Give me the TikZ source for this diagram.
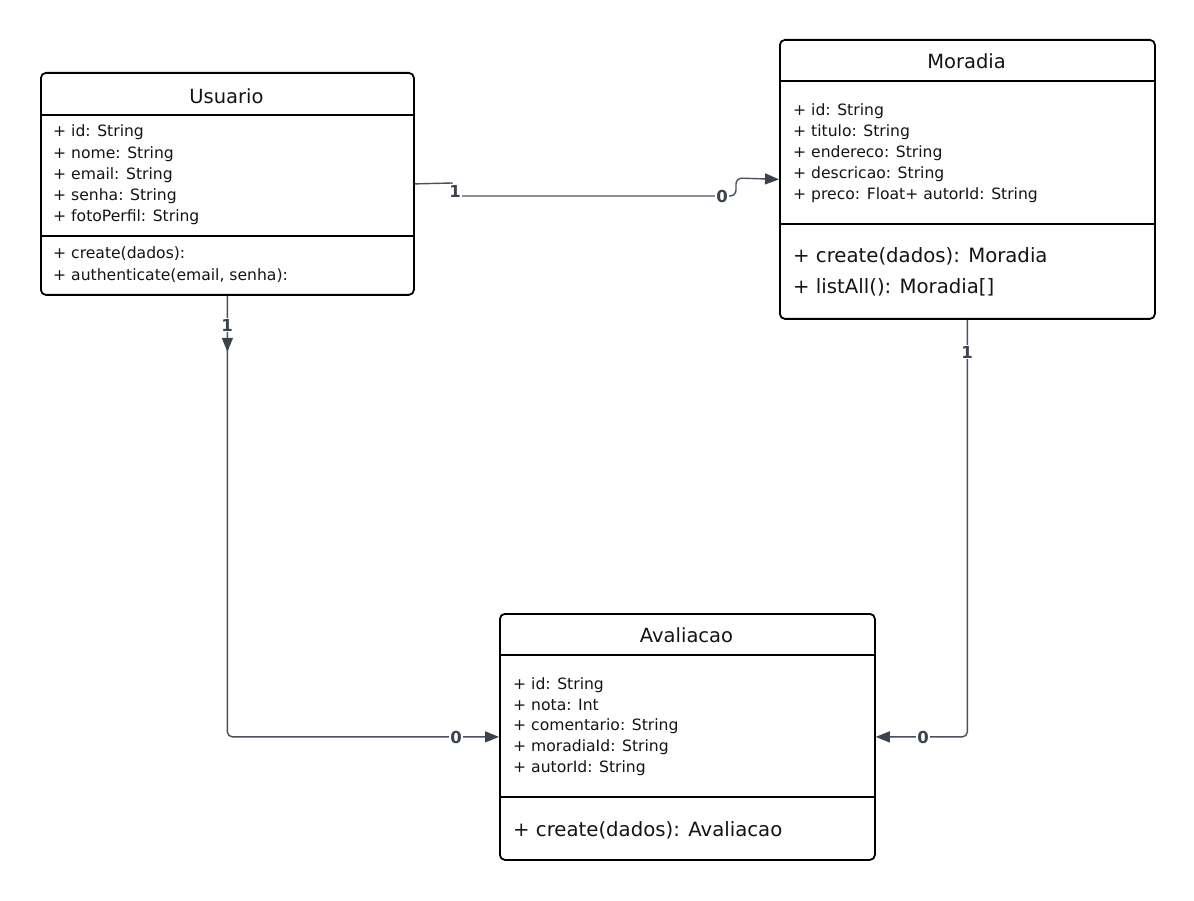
\documentclass[tikz,border=0pt]{standalone}
\usepackage{fontspec}
\setmainfont{DejaVu Sans}
\usetikzlibrary{arrows.meta,calc,decorations.markings}
\definecolor{conncol}{RGB}{74,80,92}
\definecolor{tipcol}{RGB}{60,66,78}
\definecolor{inkcol}{RGB}{20,20,20}
\begin{document}
\begin{tikzpicture}[x=1pt,y=-1pt,
  box/.style={draw=black, line width=1.8pt, rounded corners=5pt, anchor=north west, inner sep=0pt},
  divider/.style={draw=black, line width=1.8pt},
  attr/.style={anchor=west, inner sep=0pt, text=inkcol, font=\fontsize{15.6}{18}\selectfont},
  meth/.style={anchor=west, inner sep=0pt, text=inkcol, font=\fontsize{19.7}{23}\selectfont},
  ttl/.style={inner sep=0pt, text=inkcol, font=\fontsize{19.5}{23}\selectfont},
  conn/.style={draw=conncol, line width=1.4pt, rounded corners=5pt},
  tip/.style={-{Triangle[length=14pt,width=11pt,fill=tipcol,color=tipcol]}},
  mult/.style={fill=white, inner sep=1pt, text=tipcol, font=\bfseries\fontsize{16.5}{19}\selectfont}]

\useasboundingbox[fill=white] (0,0) rectangle (1194,901);

% ---------- Usuario ----------
\node[box, minimum width=373pt, minimum height=222pt] (usuario) at (40,72) {};
\draw[divider] ($(usuario.north west)+(0,43)$) -- ($(usuario.north east)+(0,43)$);
\draw[divider] ($(usuario.north west)+(0,164)$) -- ($(usuario.north east)+(0,164)$);
\node[ttl] (usuarioT) at (226.5,96) {Usuario};
\node[attr] (u1) at (53,132) {+ id: String};
\node[attr] (u2) at (53,154) {+ nome: String};
\node[attr] (u3) at (53,175) {+ email: String};
\node[attr] (u4) at (53,196) {+ senha: String};
\node[attr] (u5) at (53,217) {+ fotoPerfil: String};
\node[attr] (u6) at (53,254) {+ create(dados):};
\node[attr] (u7) at (53,276) {+ authenticate(email, senha):};

% ---------- Moradia ----------
\node[box, minimum width=375pt, minimum height=279pt] (moradia) at (779,39) {};
\draw[divider] ($(moradia.north west)+(0,42)$) -- ($(moradia.north east)+(0,42)$);
\draw[divider] ($(moradia.north west)+(0,185)$) -- ($(moradia.north east)+(0,185)$);
\node[ttl] (moradiaT) at (966.5,61) {Moradia};
\node[attr] (m1) at (793,111) {+ id: String};
\node[attr] (m2) at (793,132) {+ titulo: String};
\node[attr] (m3) at (793,153) {+ endereco: String};
\node[attr] (m4) at (793,174) {+ descricao: String};
\node[attr] (m5) at (793,195) {+ preco: Float+ autorId: String};
\node[meth] (m6) at (793,256) {+ create(dados): Moradia};
\node[meth] (m7) at (793,287) {+ listAll(): Moradia[]};

% ---------- Avaliacao ----------
\node[box, minimum width=375pt, minimum height=246pt] (avaliacao) at (499,613) {};
\draw[divider] ($(avaliacao.north west)+(0,42)$) -- ($(avaliacao.north east)+(0,42)$);
\draw[divider] ($(avaliacao.north west)+(0,184)$) -- ($(avaliacao.north east)+(0,184)$);
\node[ttl] (avaliacaoT) at (686.5,635) {Avaliacao};
\node[attr] (a1) at (513,685) {+ id: String};
\node[attr] (a2) at (513,705) {+ nota: Int};
\node[attr] (a3) at (513,726) {+ comentario: String};
\node[attr] (a4) at (513,747) {+ moradiaId: String};
\node[attr] (a5) at (513,768) {+ autorId: String};
\node[meth] (a6) at (513,830) {+ create(dados): Avaliacao};

% ---------- Connectors ----------
\coordinate (k1) at (452,183);
\coordinate (k2) at (452,196);
\coordinate (k3) at (736,196);
\coordinate (k4) at (736,178);
\draw[conn, sharp corners, tip] (usuario.east) -- (k1) -- (k2)
  [rounded corners=6pt] -- (k3) -- (k4) -- (moradia.west);
\node[mult] (um1) at (455,191) {1};
\node[mult] (um0) at (722,196) {0};

\draw[conn, tip,
  postaction={decorate, decoration={markings,
    mark=at position 56pt with {\arrow{Triangle[length=14pt,width=11pt,fill=tipcol,color=tipcol]}}}}]
  (usuario.south) -- (usuario.south |- avaliacao.west) -- (avaliacao.west);
\node[mult] (ua1) at (227,325) {1};
\node[mult] (ua0) at (456,737) {0};

\draw[conn, tip] (moradia.south) -- (moradia.south |- avaliacao.east) -- (avaliacao.east);
\node[mult] (ma1) at (967,352) {1};
\node[mult] (ma0) at (923,737) {0};

\end{tikzpicture}
\end{document}
